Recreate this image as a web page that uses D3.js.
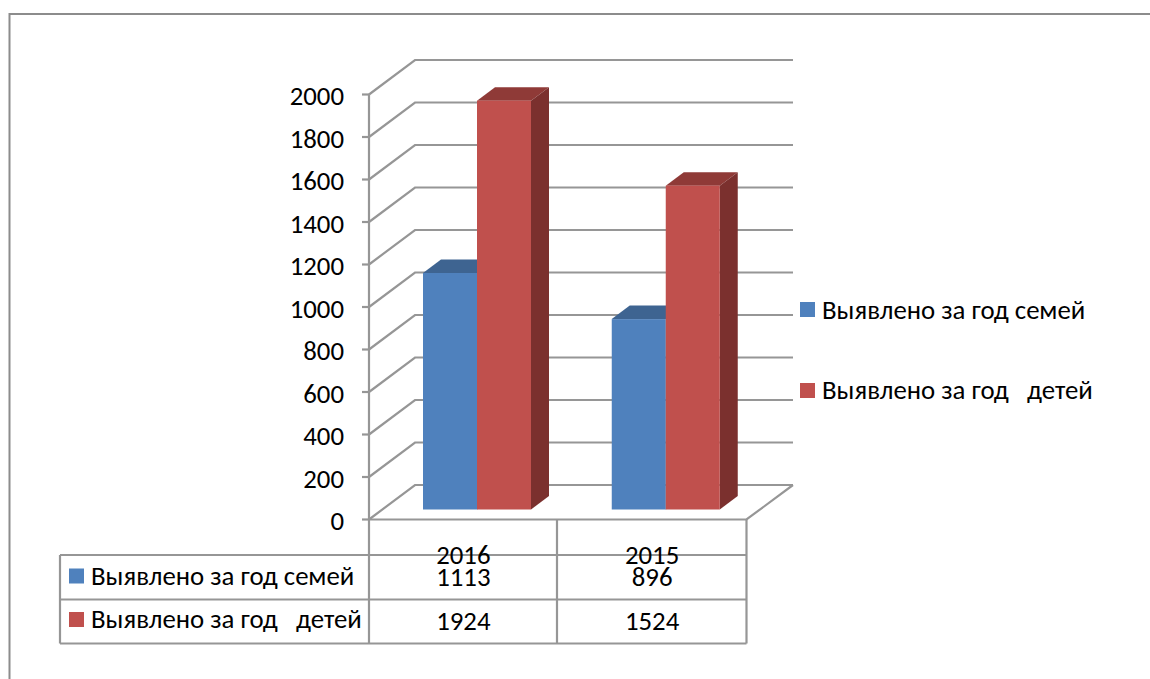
<!DOCTYPE html>
<html><head><meta charset="utf-8">
<script src="https://cdn.jsdelivr.net/npm/d3@7/dist/d3.min.js"></script>
<style>html,body{margin:0;padding:0;background:#fff}svg{display:block}text{font-family:Carlito,"Open Sans","Noto Sans",sans-serif;fill:#000;white-space:pre}</style>
</head><body><svg id="c" width="1150" height="679"></svg>
<script>
const categories = ["2016","2015"];
const seriesNames = ["Выявлено за год семей","Выявлено за год   детей"];
const families = [1113,896];
const children = [1924,1524];
const tickValues = [0,200,400,600,800,1000,1200,1400,1600,1800,2000];
const faceColors = ["#4f81bd","#c0504d"];
const topColors = ["#3e6491","#8f3a37"];
const sideColors = ["#335479","#7b302e"];
const grid = "#969696";
const fs = 26.8;
const svg = d3.select("#c");
svg.append("path").attr("d","M9.5,679V14H1150").attr("fill","none").attr("stroke","#8c8c8c").attr("stroke-width",2);
const y = d3.scaleLinear().domain([0,2000]).range([519.5,94.5]);
const x = d3.scaleBand().domain(categories).range([369,746.5]);
const dx=46, dy=34.5;
const g = svg.append("g").attr("fill","none").attr("stroke",grid).attr("stroke-width",2.2);
tickValues.forEach(t=>{
  g.append("path").attr("d",`M369,${y(t)}L${369+dx},${y(t)-dy}L793,${y(t)-dy}`);
  g.append("path").attr("d",`M362,${y(t)}H369`);
  svg.append("text").attr("x",344).attr("y",y(t)+10.5).attr("text-anchor","end").attr("font-size",fs).text(t);
});
g.append("path").attr("d",`M369,${y(2000)}V644`);
g.append("path").attr("d",`M369,${y(0)}H746.5L793,${y(0)-dy}`);
// table
g.append("path").attr("d",`M60,555H746.5M60,599.5H746.5M60,643.5H746.5M60,555V643.5M557,${y(0)}V643.5M746.5,${y(0)}V643.5`);
// bars
const barBase = 509.5, barW = 54, depthX=18, depthY=13.5;
const scale = v=>y(0)-y(v);
const series=[families,children];
categories.forEach((c,i)=>{
  const left = x(c)+54;
  series.forEach((s,j)=>{
    const x0 = left+j*barW, x1=x0+barW, h=scale(s[i]), t=barBase-h;
    const gb = svg.append("g");
    gb.append("path").attr("d",`M${x0},${t}L${x0+depthX},${t-depthY}H${x1+depthX}L${x1},${t}Z`).attr("fill",topColors[j]);
    gb.append("path").attr("d",`M${x1},${t}L${x1+depthX},${t-depthY}V${barBase-depthY}L${x1},${barBase}Z`).attr("fill",sideColors[j]);
    gb.append("rect").attr("x",x0).attr("y",t).attr("width",barW).attr("height",h).attr("fill",faceColors[j]);
  });
});
// category labels and values
categories.forEach((c,i)=>{
  const cx=x(c)+x.bandwidth()/2;
  svg.append("text").attr("x",cx).attr("y",563.5).attr("text-anchor","middle").attr("font-size",fs).text(c);
  svg.append("text").attr("x",cx).attr("y",586).attr("text-anchor","middle").attr("font-size",fs).text(families[i]);
  svg.append("text").attr("x",cx).attr("y",630).attr("text-anchor","middle").attr("font-size",fs).text(children[i]);
});
// table legend + right legend
const rowsSquare=[568.5,612], rowsBase=[584.5,628], legSquare=[302,383], legBase=[319,399];
seriesNames.forEach((n,j)=>{
  svg.append("rect").attr("x",69).attr("y",rowsSquare[j]).attr("width",15).attr("height",15).attr("fill",faceColors[j]);
  svg.append("text").attr("x",91).attr("y",rowsBase[j]).attr("font-size",fs).text(n);
  svg.append("rect").attr("x",800).attr("y",legSquare[j]).attr("width",15).attr("height",15).attr("fill",faceColors[j]);
  svg.append("text").attr("x",822).attr("y",legBase[j]).attr("font-size",fs).text(n);
});
</script></body></html>
